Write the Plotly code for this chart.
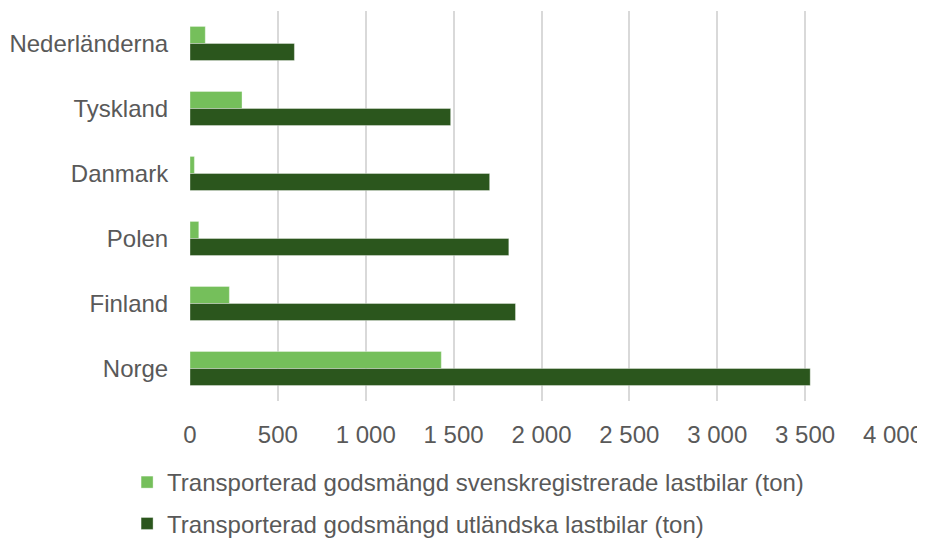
import plotly.graph_objects as go

categories = ["Nederländerna", "Tyskland", "Danmark", "Polen", "Finland", "Norge"]
svensk = [87, 296, 25, 50, 224, 1430]
utlandsk = [594, 1483, 1705, 1814, 1852, 3529]
tick_vals = [0, 500, 1000, 1500, 2000, 2500, 3000, 3500, 4000]
tick_text = ["0", "500", "1 000", "1 500", "2 000", "2 500", "3 000", "3 500", "4 000"]
name_svensk = "Transporterad godsmängd svenskregistrerade lastbilar (ton)"
name_utl = "Transporterad godsmängd utländska lastbilar (ton)"

FONT = "Liberation Sans, Arial, sans-serif"
TXT = "#595959"
FS = 24

fig = go.Figure()
fig.add_trace(go.Bar(y=categories, x=svensk, orientation="h", name=name_svensk,
                     marker=dict(color="#75BF5B", line=dict(color="rgba(255,255,255,0.6)", width=0.6)),
                     legend="legend", showlegend=True))
fig.add_trace(go.Bar(y=categories, x=utlandsk, orientation="h", name=name_utl,
                     marker=dict(color="#2B561D", line=dict(color="rgba(255,255,255,0.6)", width=0.6)),
                     legend="legend2", showlegend=True))

fig.update_layout(
    width=917, height=530,
    margin=dict(l=182, r=32, t=3, b=137, autoexpand=False),
    paper_bgcolor="white", plot_bgcolor="white",
    showlegend=True,
    barmode="group", bargap=0.475, bargroupgap=0,
    font=dict(family=FONT, size=FS, color=TXT),
    xaxis=dict(range=[0, 4000], tickvals=tick_vals, ticktext=tick_text,
               showgrid=True, gridcolor="#D9D9D9", gridwidth=1.5, automargin=False,
               zeroline=False, showline=False, ticks="outside", ticklen=12,
               tickcolor="rgba(0,0,0,0)", tickfont=dict(size=FS, color=TXT)),
    yaxis=dict(autorange="reversed", showgrid=False, zeroline=False, showline=False,
               automargin=False,
               ticks="outside", ticklen=16, tickcolor="rgba(0,0,0,0)",
               tickfont=dict(size=FS, color=TXT)),
    legend=dict(x=-0.0895, y=-0.209, xanchor="left", yanchor="middle",
                font=dict(size=FS, color=TXT), bgcolor="rgba(0,0,0,0)", itemwidth=30),
    legend2=dict(x=-0.0895, y=-0.315, xanchor="left", yanchor="middle",
                 font=dict(size=FS, color=TXT), bgcolor="rgba(0,0,0,0)", itemwidth=30),
)

fig.write_html("out.html")
